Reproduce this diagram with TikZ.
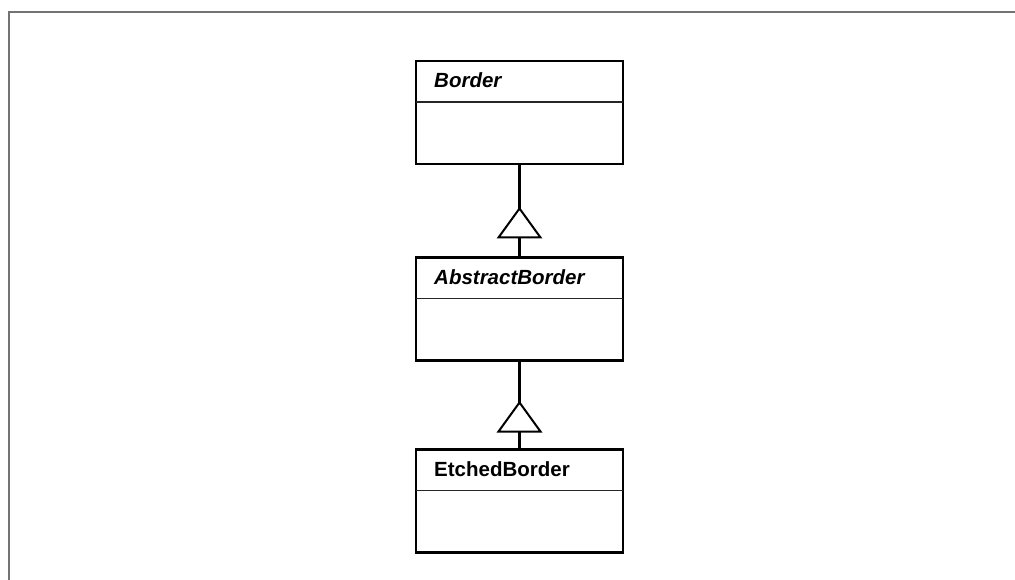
\documentclass[tikz,border=0pt]{standalone}
\usepackage{fontspec}
\setmainfont{Liberation Sans}
\usetikzlibrary{calc}
\tikzset{
  x=1pt, y=-1pt,
  classbox/.style={draw, line width=2.3pt, minimum width=207pt, minimum height=103pt,
    inner sep=0pt, outer sep=0pt},
  classname/.style={anchor=base west, inner sep=0pt, font=\fontsize{20.5}{24}\selectfont\bfseries},
  divider/.style={line width=1.2pt, draw=black!85},
  link/.style={line width=2.3pt},
  gentri/.style={line width=2pt, fill=white, line join=miter},
  frame/.style={line width=2.2pt, draw=black!55}
}
\begin{document}
\begin{tikzpicture}
\useasboundingbox (0,0) rectangle (1015,580);
% page frame: top and left rules
\draw[frame] (9,580) -- (9,12) -- (1015,12);

% classes
\node[classbox] (border)   at (519.5,112.5) {};
\node[classbox] (abstract) at (519.5,309)   {};
\node[classbox] (etched)   at (519.5,501)   {};

\foreach \c in {border,abstract,etched}
  \draw[divider] ($(\c.north west)+(0,41)$) -- ($(\c.north east)+(0,41)$);

\node[classname] (bordername)   at ($(border.north west)+(18,27)$)   {\itshape Border};
\node[classname] (abstractname) at ($(abstract.north west)+(18,27)$) {\itshape AbstractBorder};
\node[classname] (etchedname)   at ($(etched.north west)+(18,27)$)   {EtchedBorder};

% generalization links
\draw[link] (abstract.north) -- (border.south);
\draw[link] (etched.north) -- (abstract.south);

\coordinate (t1) at ($(abstract.north)+(0,-20)$);
\coordinate (t2) at ($(etched.north)+(0,-18)$);
\foreach \t in {t1,t2}
  \draw[gentri] ($(\t)+(-21,0)$) -- ($(\t)+(0,-29)$) -- ($(\t)+(21,0)$) -- cycle;
\end{tikzpicture}
\end{document}
